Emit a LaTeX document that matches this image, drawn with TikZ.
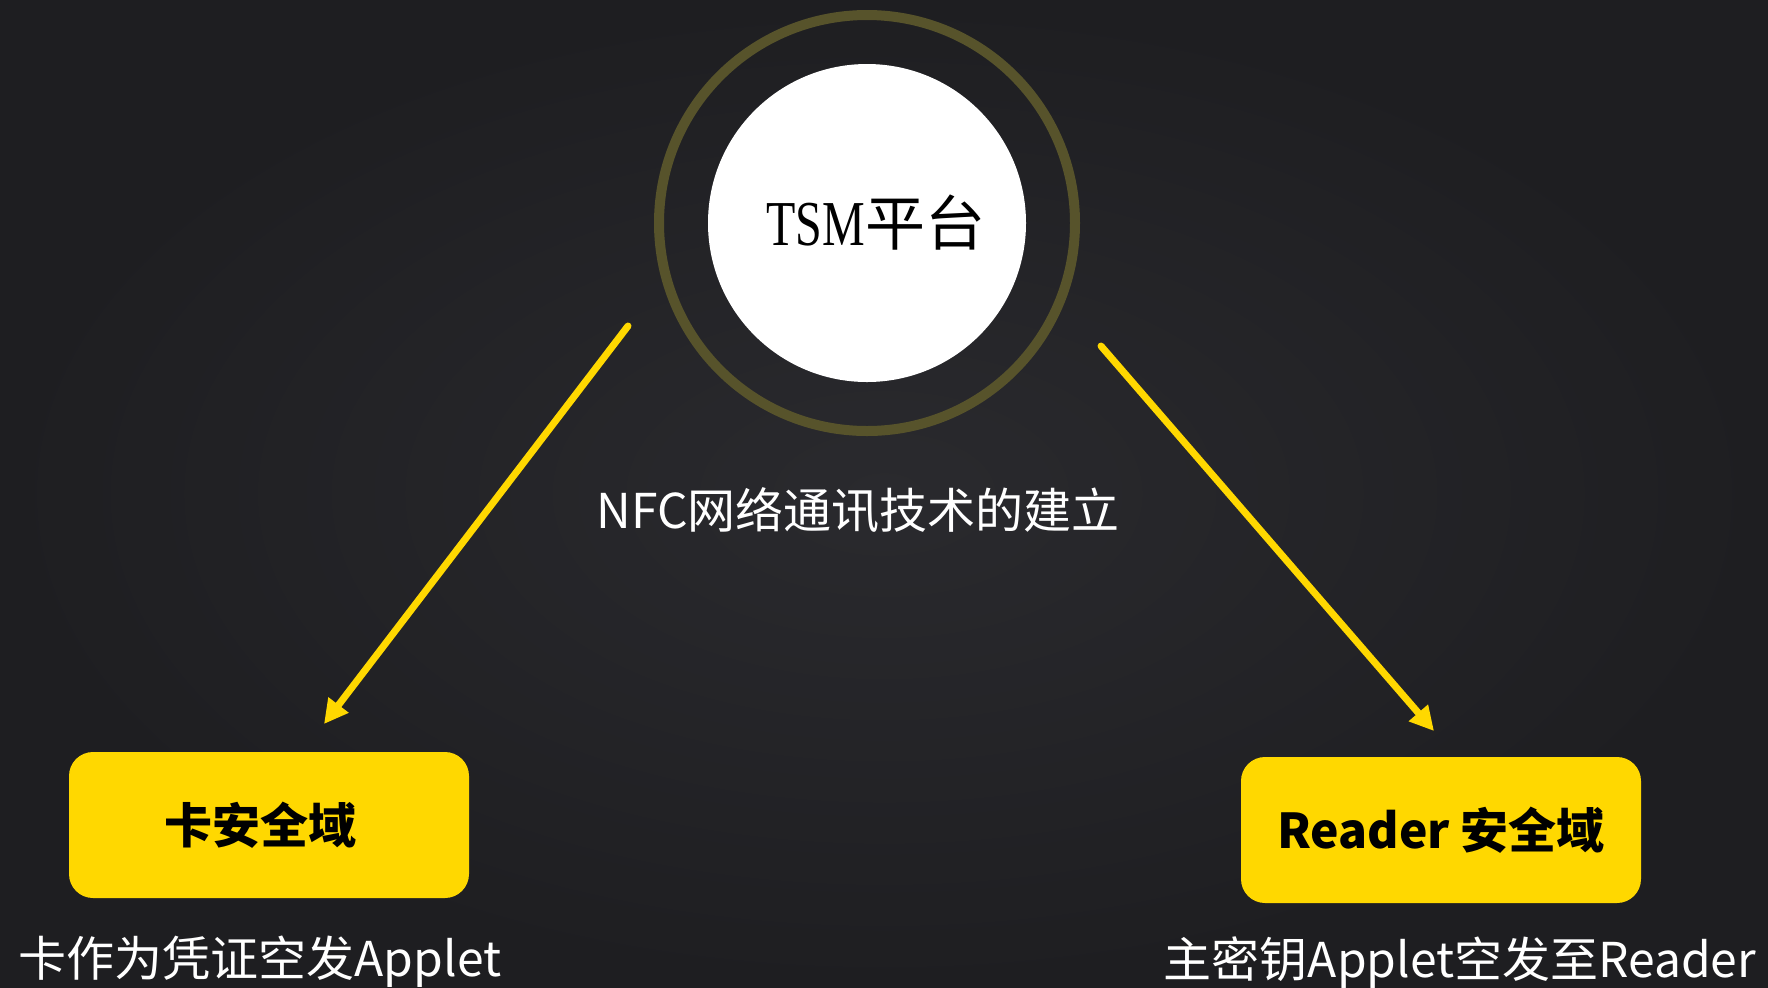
\documentclass[tikz,border=0pt]{standalone}
\usepackage{fontspec}
\usetikzlibrary{arrows.meta}
\newfontfamily\cjk{Noto Sans CJK SC}
\newfontfamily\tsmfont{Liberation Serif}
\definecolor{bgmid}{HTML}{2A2A2E}
\definecolor{bgedge}{HTML}{1E1E21}
\definecolor{gold}{HTML}{FFD800}
\definecolor{olive}{HTML}{57532B}
\tikzset{
    domainbox/.style={draw=none, fill=gold, rounded corners=12pt, minimum width=200pt,
        minimum height=73pt, inner sep=0pt, font=\cjk\bfseries\fontsize{24}{28}\selectfont},
    caption/.style={text=white, inner sep=0pt, font=\cjk\fontsize{24}{28}\selectfont},
    flow/.style={gold, line width=3.5pt, line cap=round, -{Triangle[length=12pt,width=12pt]}}
}

\begin{document}
\begin{tikzpicture}[x=0.5pt, y=-0.5pt]
    % units of pixels, y pointing down
    \useasboundingbox (0,0) rectangle (1768,987);
    \shade[inner color=bgmid, outer color=bgedge] (0,0) rectangle (1768,987);

    \node[circle, fill=white, minimum size=159pt, inner sep=0pt] (tsm) at (867,223)
        {\kern9pt\raisebox{1.5pt}{{\tsmfont\fontsize{32}{36}\selectfont\scalebox{0.75}[1]{TSM}}{\cjk\fontsize{30}{34}\selectfont 平台}}};
    \draw[olive, line width=5pt] (tsm.center) circle[radius=104pt]; % outer ring

    \node[caption] (nfc) at (858,510) {NFC网络通讯技术的建立};

    \node[domainbox] (card) at (269,825) {卡安全域\kern9pt};
    \node[domainbox] (reader) at (1441,830) {Reader 安全域};

    \node[caption] (cardnote) at (260,962) {卡作为凭证空发Applet};
    \node[caption] (readernote) at (1460,963) {主密钥Applet空发至Reader};

    \coordinate (lstart) at (628,326);
    \coordinate (lend) at (324,724);
    \coordinate (rstart) at (1101,346);
    \coordinate (rend) at (1434,731);
    \draw[flow] (lstart) -- (lend);
    \draw[flow] (rstart) -- (rend);
\end{tikzpicture}
\end{document}
